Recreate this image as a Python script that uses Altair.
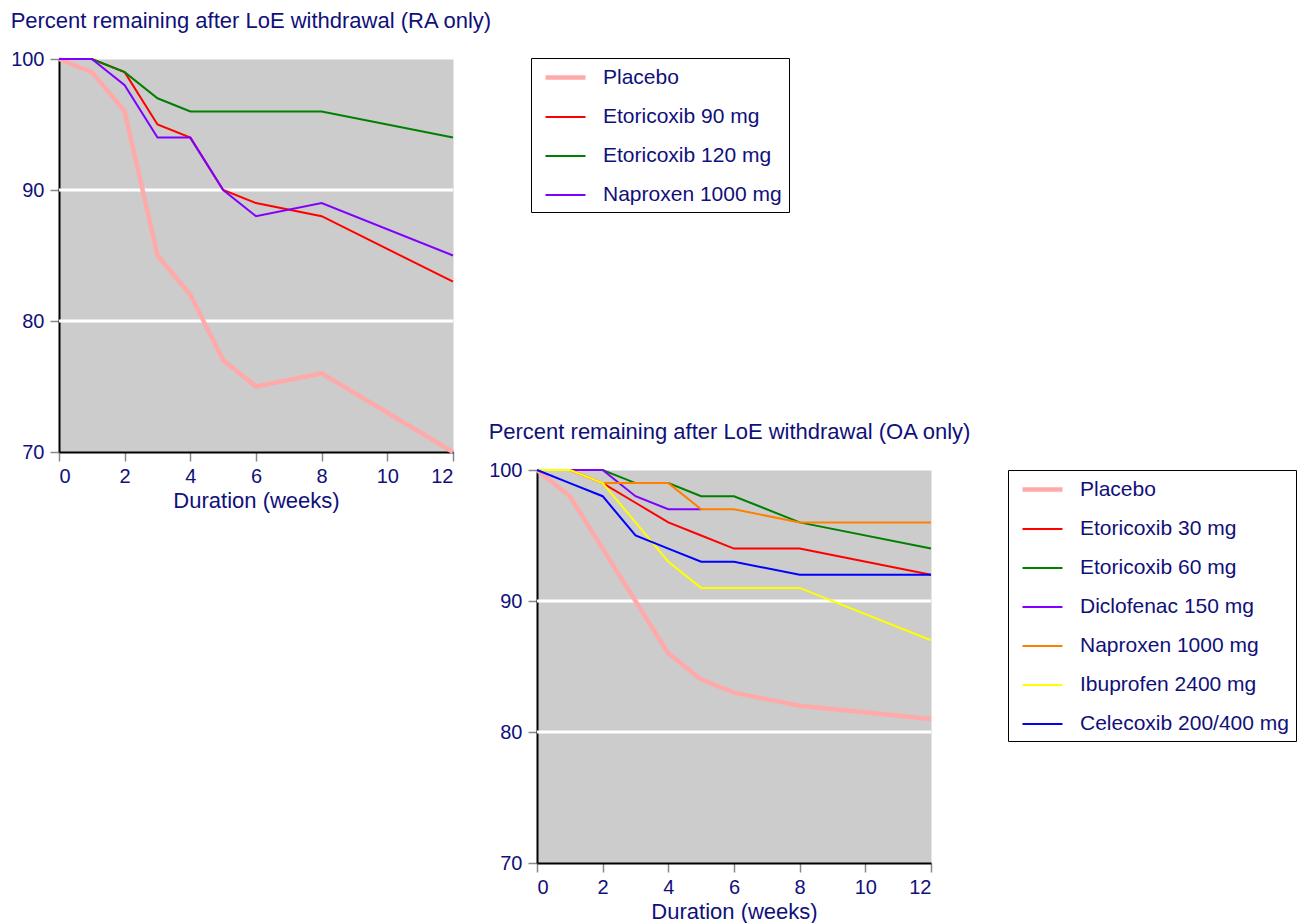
import altair as alt
import pandas as pd

FONT = "Liberation Sans"
NAVY = "#10107a"

weeks = [0, 1, 2, 3, 4, 5, 6, 8, 12]

ra_series = ["Placebo", "Etoricoxib 90 mg", "Etoricoxib 120 mg", "Naproxen 1000 mg"]
ra_colors = ["#ffaaaa", "#ff0000", "#008000", "#8000ff"]
ra_widths = [4.5, 2, 2, 2]
ra_placebo = [100, 99, 96, 85, 82, 77, 75, 76, 70]
ra_etor90 = [100, 100, 99, 95, 94, 90, 89, 88, 83]
ra_etor120 = [100, 100, 99, 97, 96, 96, 96, 96, 94]
ra_naproxen = [100, 100, 98, 94, 94, 90, 88, 89, 85]

oa_series = ["Placebo", "Etoricoxib 30 mg", "Etoricoxib 60 mg", "Diclofenac 150 mg",
             "Naproxen 1000 mg", "Ibuprofen 2400 mg", "Celecoxib 200/400 mg"]
oa_colors = ["#ffaaaa", "#ff0000", "#008000", "#8000ff", "#ff8000", "#ffff00", "#0000ff"]
oa_widths = [4.5, 2, 2, 2, 2, 2, 2]
oa_placebo = [100, 98, 94, 90, 86, 84, 83, 82, 81]
oa_etor30 = [100, 100, 99, 97.5, 96, 95, 94, 94, 92]
oa_etor60 = [100, 100, 100, 99, 99, 98, 98, 96, 94]
oa_diclofenac = [100, 100, 100, 98, 97, 97]
oa_naproxen = [100, 100, 99, 99, 99, 97, 97, 96, 96]
oa_ibuprofen = [100, 100, 99, 96, 93, 91, 91, 91, 87]
oa_celecoxib = [100, 99, 98, 95, 94, 93, 93, 92, 92]

y_ticks = [70, 80, 90, 100]
x_ticks = [0, 2, 4, 6, 8, 10, 12]
gridlines = [80, 90]


def long_table(names, values):
    rows = []
    for name, vals in zip(names, values):
        for w, v in zip(weeks, vals):
            rows.append({"series": name, "week": w, "pct": v})
    return pd.DataFrame(rows)


ra_df = long_table(ra_series, [ra_placebo, ra_etor90, ra_etor120, ra_naproxen])
oa_df = long_table(oa_series, [oa_placebo, oa_etor30, oa_etor60, oa_diclofenac,
                               oa_naproxen, oa_ibuprofen, oa_celecoxib])

axis_common = dict(
    labelFont=FONT, labelFontSize=20, labelColor=NAVY,
    titleFont=FONT, titleFontSize=22, titleColor=NAVY, titleFontWeight="normal",
    domainColor="black", domainWidth=2, tickColor="#888888", tickWidth=1.5,
    tickSize=9, grid=False,
)

legend_common = dict(
    title=None, padding=7,
    strokeColor="black", fillColor="white",
    labelFont=FONT, labelFontSize=21, labelColor=NAVY,
    symbolType="M-2,0H2", symbolSize=400, symbolOffset=15, labelOffset=25,
    rowPadding=18, labelLimit=400,
)

X_SCALE = alt.Scale(domain=[0, 12], nice=False)
Y_SCALE = alt.Scale(domain=[70, 100], nice=False, zero=False)


def enc_color(names, colors, legend):
    return alt.Color("series:N", scale=alt.Scale(domain=names, range=colors), legend=legend)


def enc_width(names, widths, legend):
    return alt.StrokeWidth("series:N",
                           scale=alt.Scale(type="ordinal", domain=names, range=widths),
                           legend=legend)


def panel(df, names, colors, widths, title, legend):
    xs = alt.X("week:Q", scale=X_SCALE,
               axis=alt.Axis(values=x_ticks, title="Duration (weeks)", labelPadding=5,
                             titlePadding=4, **axis_common))
    ys = alt.Y("pct:Q", scale=Y_SCALE,
               axis=alt.Axis(values=y_ticks, title=None, labelPadding=6, **axis_common))
    grid = alt.Chart(pd.DataFrame({"g": gridlines})).mark_rule(
        color="white", strokeWidth=3
    ).encode(y=alt.Y("g:Q", scale=Y_SCALE))
    lines = alt.Chart(df).mark_line().encode(
        x=xs, y=ys,
        color=enc_color(names, colors, legend),
        strokeWidth=enc_width(names, widths, legend),
    )
    return alt.layer(grid, lines).properties(
        width=394, height=393,
        view=alt.ViewBackground(fill="#cccccc", stroke="transparent"),
        title=alt.TitleParams(title, anchor="start", frame="bounds", font=FONT,
                              fontSize=22, color=NAVY, fontWeight="normal", offset=16),
    )


ra_chart = panel(ra_df, ra_series, ra_colors, ra_widths,
                 "Percent remaining after LoE withdrawal (RA only)", None)
oa_chart = panel(oa_df, oa_series, oa_colors, oa_widths,
                 "Percent remaining after LoE withdrawal (OA only)",
                 alt.Legend(orient="right", offset=68, **legend_common))

# chart that only carries the RA legend, placed above the OA panel
ra_legend = alt.Legend(orient="none", legendX=-6, legendY=-1, **legend_common)
ra_legend_chart = alt.Chart(ra_df).transform_filter("false").mark_line().encode(
    x=alt.X("week:Q", scale=X_SCALE, axis=None),
    y=alt.Y("pct:Q", scale=Y_SCALE, axis=None),
    color=enc_color(ra_series, ra_colors, ra_legend),
    strokeWidth=enc_width(ra_series, ra_widths, ra_legend),
).properties(width=1, height=348, view=alt.ViewBackground(stroke="transparent"))

right_col = alt.vconcat(ra_legend_chart, oa_chart, spacing=12).resolve_scale(
    x="independent", y="independent", color="independent", strokeWidth="independent")

chart = alt.hconcat(ra_chart, right_col, spacing=-5).resolve_scale(
    x="independent", y="independent", color="independent", strokeWidth="independent"
).properties(
    padding={"left": 2, "top": 1, "right": 0, "bottom": 0}
).configure_view(stroke="transparent").configure_legend(strokeWidth=2).configure(
    background="white")

chart.save("out.html", embed_options={"renderer": "svg", "actions": False})
